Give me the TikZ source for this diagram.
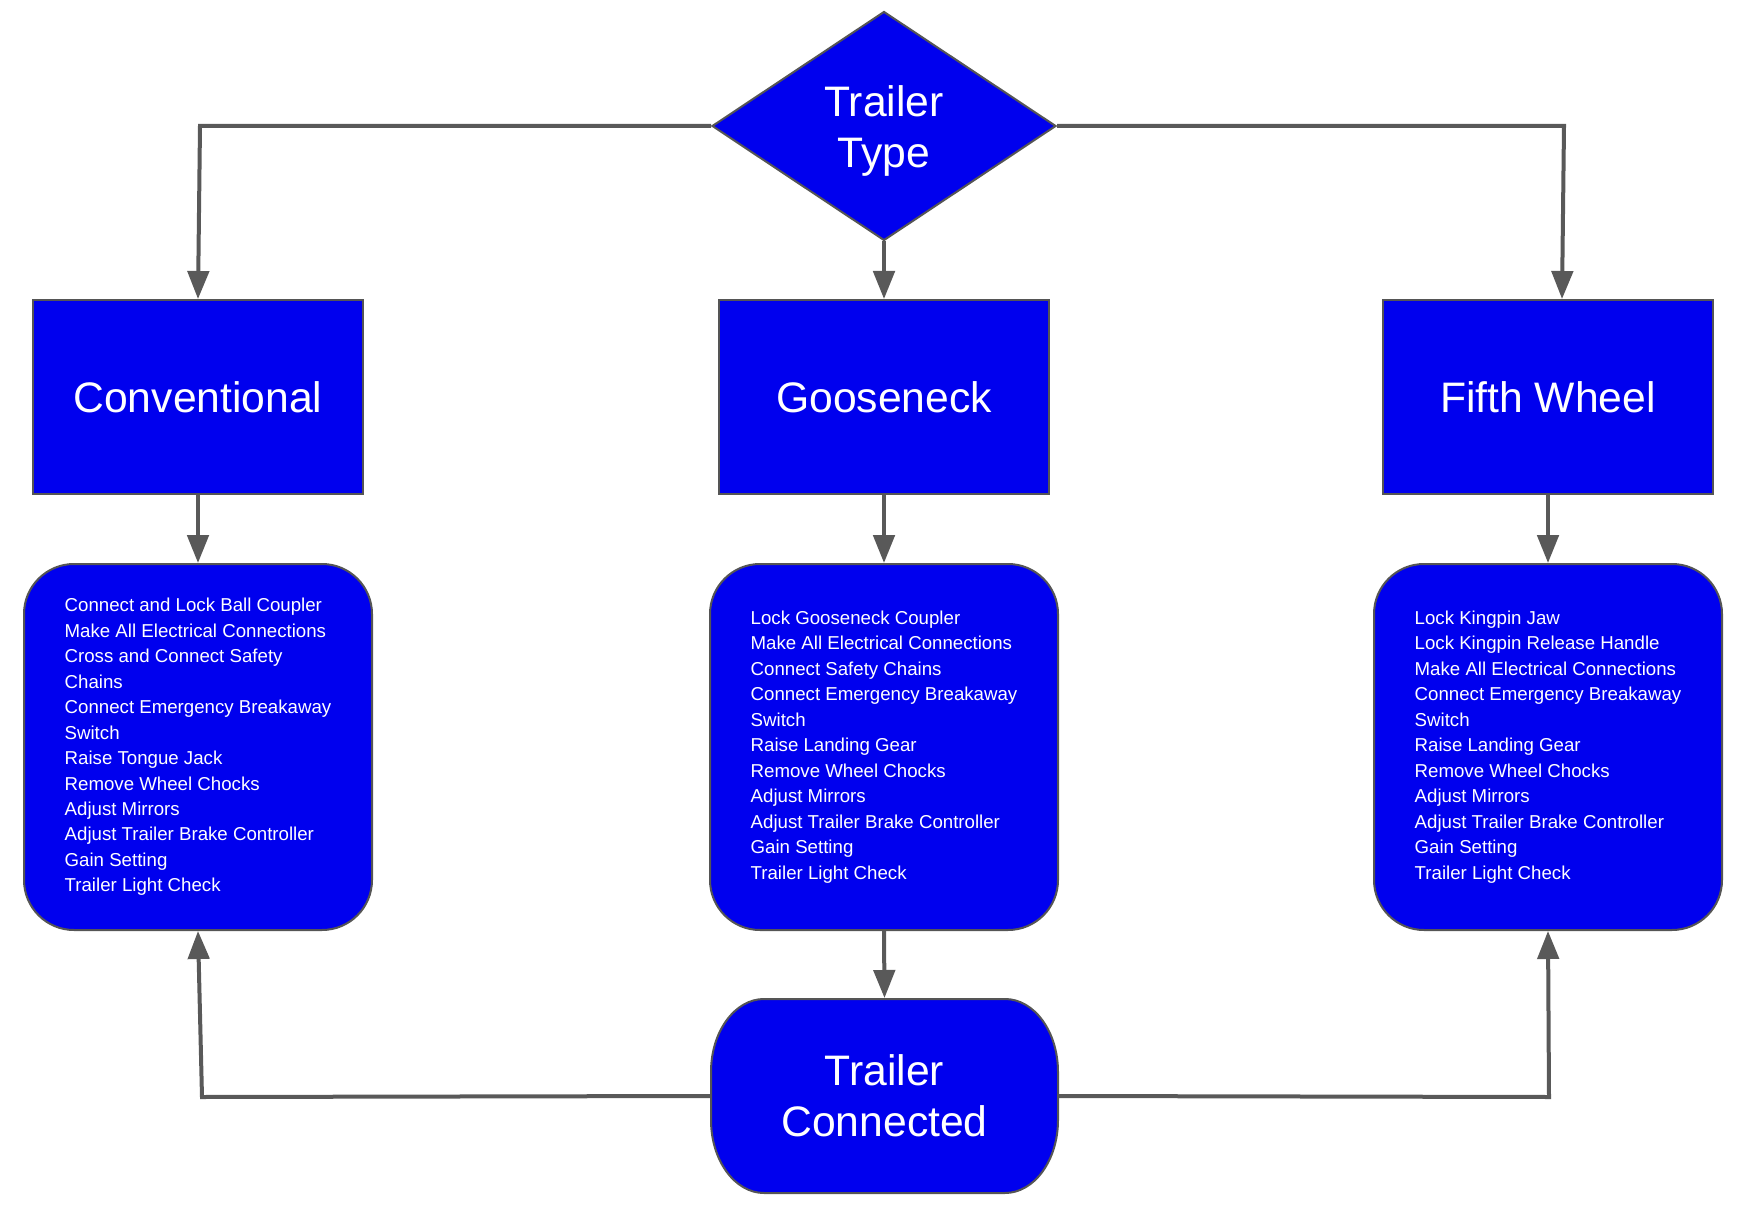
\documentclass[tikz,border=0pt]{standalone}
\usepackage{fontspec}
\setmainfont{Liberation Sans}
\usetikzlibrary{shapes.geometric,arrows.meta,calc}
\definecolor{nblue}{RGB}{0,0,238}
\definecolor{edgegray}{RGB}{89,89,89}
\definecolor{bordergray}{RGB}{85,85,85}
\begin{document}
\begin{tikzpicture}[x=0.75pt,y=0.75pt,
  base/.style={fill=nblue, draw=bordergray, line width=1.5pt, text=white, inner sep=0pt},
  titlefont/.style={font=\fontsize{32}{38}\selectfont, align=center, text=white},
  title/.style={base, titlefont},
  catbox/.style={title, rectangle, minimum width=247.5pt, minimum height=145.5pt},
  stepsbox/.style={base, rectangle, rounded corners=37.5pt, minimum width=261pt, minimum height=274.5pt, align=left, font=\fontsize{14}{19.1}\selectfont},
  link/.style={draw=edgegray, line width=3pt, -{Triangle[length=21pt,width=16pt]}},
]
\useasboundingbox (0,0) rectangle (1742,-1212);

% decision
\node[base, diamond, minimum width=258pt, minimum height=171.75pt, aspect=1.5] (tt) at (884,-126) {};
\node[titlefont, inner sep=0pt] (ttlabel) at ([yshift=-3.5pt]tt.center) {Trailer\\Type};

% categories
\node[catbox] (conv) at (198,-397) {Conventional};
\node[catbox] (goose) at (884,-397) {Gooseneck};
\node[catbox] (fw) at (1548,-397) {Fifth Wheel};

% steps
\node[stepsbox] (convsteps) at (198,-747) {Connect and Lock Ball Coupler\\Make All Electrical Connections\\Cross and Connect Safety\\Chains\\Connect Emergency Breakaway\\Switch\\Raise Tongue Jack\\Remove Wheel Chocks\\Adjust Mirrors\\Adjust Trailer Brake Controller\\Gain Setting\\Trailer Light Check};
\node[stepsbox] (goosesteps) at (884,-747) {Lock Gooseneck Coupler\\Make All Electrical Connections\\Connect Safety Chains\\Connect Emergency Breakaway\\Switch\\Raise Landing Gear\\Remove Wheel Chocks\\Adjust Mirrors\\Adjust Trailer Brake Controller\\Gain Setting\\Trailer Light Check};
\node[stepsbox] (fwsteps) at (1548,-747) {Lock Kingpin Jaw\\Lock Kingpin Release Handle\\Make All Electrical Connections\\Connect Emergency Breakaway\\Switch\\Raise Landing Gear\\Remove Wheel Chocks\\Adjust Mirrors\\Adjust Trailer Brake Controller\\Gain Setting\\Trailer Light Check};

% terminal (stadium shape)
\filldraw[fill=nblue, draw=bordergray, line width=1.5pt]
  (764,-999) -- (1005,-999) arc[start angle=90,end angle=0,x radius=53,y radius=73]
  -- (1058,-1120) arc[start angle=0,end angle=-90,x radius=53,y radius=73]
  -- (764,-1193) arc[start angle=270,end angle=180,x radius=53,y radius=73]
  -- (711,-1072) arc[start angle=180,end angle=90,x radius=53,y radius=73] -- cycle;
\node[title, draw=none, fill=none, minimum width=260.25pt, minimum height=145.5pt] (tc) at (884.5,-1096) {Trailer\\Connected};

% connectors
\draw[link] (tt.west) -- (200,-126) -- (conv.north);
\draw[link] (tt.south) -- (goose.north);
\draw[link] (tt.east) -- (1564,-126) -- ($(fw.north)+(14,0)$);
\draw[link] (conv.south) -- (convsteps.north);
\draw[link] (goose.south) -- (goosesteps.north);
\draw[link] (fw.south) -- (fwsteps.north);
\draw[link] (goosesteps.south) -- (tc.north);
\draw[link] (tc.west) -- (202,-1097) -- (convsteps.south);
\draw[link] (tc.east) -- (1549,-1097) -- (fwsteps.south);
\end{tikzpicture}
\end{document}
